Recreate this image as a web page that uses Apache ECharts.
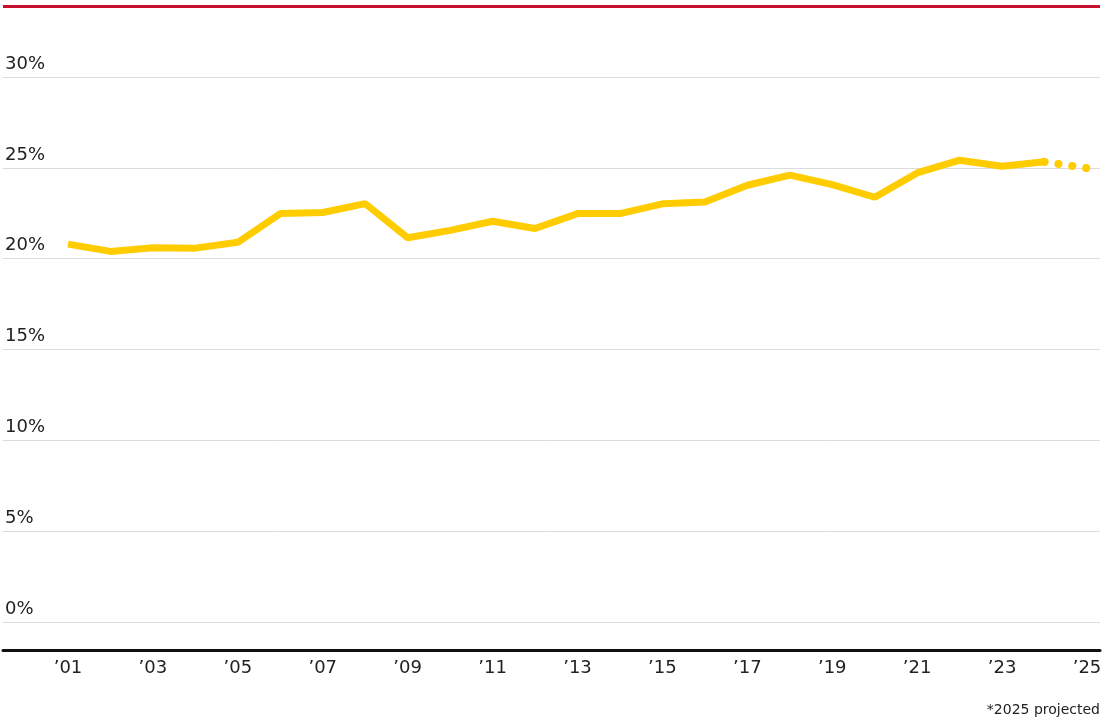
<!DOCTYPE html>
<html lang="en" style="height:100%">
  <head>
    <meta charset="utf-8">
    <title>share chart</title>
    <script type="text/javascript" src="https://cdn.jsdelivr.net/npm/echarts@6/dist/echarts.min.js"></script>
    <style>
      html, body { margin:0; padding:0; background:#fff; }
      #chart { width:1112px; height:721px; }
    </style>
  </head>
  <body>
    <div id="chart"></div>
    <script type="text/javascript">
      // years and values (%), 2025 is projected
      var years = [2001,2002,2003,2004,2005,2006,2007,2008,2009,2010,2011,2012,2013,
                   2014,2015,2016,2017,2018,2019,2020,2021,2022,2023,2024];
      var values = [20.8,20.4,20.6,20.58,20.9,22.48,22.54,23.03,21.15,21.56,22.06,21.66,22.48,
                    22.48,23.02,23.12,24.04,24.6,24.08,23.38,24.72,25.42,25.09,25.33];
      var projYears = [2024, 2025];
      var projValues = [25.33, 24.98];
      var xTickYears = [2001,2003,2005,2007,2009,2011,2013,2015,2017,2019,2021,2023,2025];

      var FONT = 'DejaVu Sans';
      var YELLOW = '#FFCC00';

      function pairs(xs, ys){
        var out = [];
        for(var i = 0; i < xs.length; i++){
          out.push([xs[i], ys[i]]);
        }
        return out;
      }

      var myChart = echarts.init(document.getElementById('chart'));
      var option = {
        animation: false,
        grid: { left: 3, right: 12, top: 77, bottom: 99 },
        xAxis: {
          type: 'value',
          min: 1999.469,
          max: 2025.306,
          offset: 28,
          axisLine: { show: true, onZero: false, lineStyle: { color: '#111', width: 3 } },
          axisTick: { show: false },
          splitLine: { show: false },
          axisLabel: {
            customValues: xTickYears,
            margin: 9,
            fontFamily: FONT,
            fontSize: 18,
            color: '#222',
            formatter: function(v){ return '\u2019' + String(v).slice(2); }
          }
        },
        yAxis: {
          type: 'value',
          min: 0,
          max: 30,
          interval: 5,
          axisLine: { show: false },
          axisTick: { show: false },
          splitLine: { lineStyle: { color: '#dcdcdc', width: 1 } },
          axisLabel: {
            inside: true,
            margin: 2,
            align: 'left',
            verticalAlign: 'bottom',
            padding: [0, 0, 4, 0],
            fontFamily: FONT,
            fontSize: 18,
            color: '#222',
            formatter: '{value}%'
          }
        },
        graphic: [
          { type: 'rect', left: 3, top: 5, shape: { width: 1097, height: 3 }, style: { fill: '#C8102E' } },
          { type: 'text', right: 12, top: 703, style: { text: '*2025 projected', fontFamily: FONT, fontSize: 14, fill: '#222' } }
        ],
        series: [
          {
            type: 'line',
            data: pairs(years, values),
            symbol: 'none',
            lineStyle: { color: YELLOW, width: 7 },
            z: 3
          },
          {
            type: 'line',
            data: pairs(projYears, projValues),
            symbol: 'none',
            lineStyle: { color: YELLOW, width: 8, type: [0.1, 13.9], cap: 'round' },
            z: 2
          }
        ]
      };
      option && myChart.setOption(option);
    </script>
  </body>
</html>
